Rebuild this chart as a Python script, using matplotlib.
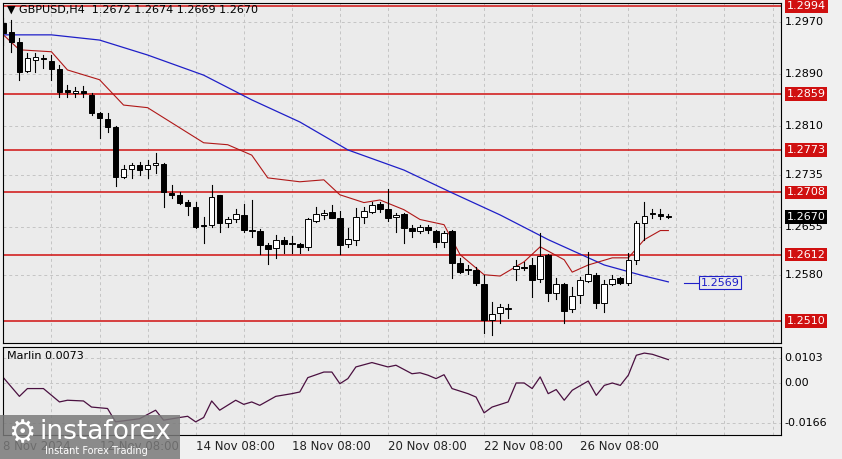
import numpy as np
import matplotlib.pyplot as plt
from matplotlib.patches import Rectangle

# H4 candles
opens = [1.2968, 1.2955, 1.2939, 1.2895, 1.2912, 1.2915, 1.2910, 1.2898, 1.2865, 1.2861,
         1.2864, 1.2858, 1.2830, 1.2821, 1.2809, 1.2731, 1.2744, 1.2750, 1.2744, 1.2750,
         1.2752, 1.2707, 1.2704, 1.2693, 1.2685, 1.2658, 1.2658, 1.2704, 1.2661, 1.2666,
         1.2673, 1.2650, 1.2648, 1.2627, 1.2622, 1.2635, 1.2630, 1.2628, 1.2624, 1.2664,
         1.2673, 1.2678, 1.2669, 1.2628, 1.2635, 1.2670, 1.2678, 1.2690, 1.2682, 1.2670,
         1.2675, 1.2653, 1.2648, 1.2655, 1.2648, 1.2632, 1.2648, 1.2599, 1.2590, 1.2589,
         1.2567, 1.2512, 1.2522, 1.2529, 1.2590, 1.2593, 1.2596, 1.2575, 1.2612, 1.2553,
         1.2567, 1.2529, 1.2550, 1.2572, 1.2581, 1.2538, 1.2567, 1.2576, 1.2569, 1.2604,
         1.2661, 1.2676, 1.2675, 1.2672]
highs = [1.2976, 1.2973, 1.2945, 1.2922, 1.2922, 1.2919, 1.2919, 1.2904, 1.2873, 1.2870,
         1.2872, 1.2861, 1.2832, 1.2830, 1.2810, 1.2750, 1.2753, 1.2755, 1.2758, 1.2769,
         1.2753, 1.2719, 1.2709, 1.2696, 1.2693, 1.2670, 1.2719, 1.2704, 1.2670, 1.2682,
         1.2690, 1.2696, 1.2652, 1.2630, 1.2642, 1.2639, 1.2641, 1.2630, 1.2669, 1.2685,
         1.2681, 1.2689, 1.2679, 1.2653, 1.2684, 1.2685, 1.2693, 1.2693, 1.2713, 1.2676,
         1.2676, 1.2658, 1.2658, 1.2658, 1.2650, 1.2648, 1.2650, 1.2607, 1.2596, 1.2593,
         1.2581, 1.2539, 1.2536, 1.2536, 1.2604, 1.2601, 1.2607, 1.2645, 1.2613, 1.2576,
         1.2569, 1.2562, 1.2578, 1.2616, 1.2584, 1.2573, 1.2581, 1.2578, 1.2615, 1.2664,
         1.2693, 1.2682, 1.2682, 1.2674]
lows = [1.2935, 1.2924, 1.2881, 1.2893, 1.2893, 1.2899, 1.2881, 1.2855, 1.2855, 1.2855,
        1.2855, 1.2827, 1.2792, 1.2801, 1.2718, 1.2730, 1.2730, 1.2735, 1.2730, 1.2738,
        1.2685, 1.2699, 1.2690, 1.2673, 1.2653, 1.2630, 1.2655, 1.2647, 1.2655, 1.2662,
        1.2647, 1.2639, 1.2613, 1.2598, 1.2607, 1.2615, 1.2615, 1.2615, 1.2619, 1.2662,
        1.2666, 1.2669, 1.2613, 1.2624, 1.2627, 1.2661, 1.2676, 1.2678, 1.2664, 1.2647,
        1.2630, 1.2639, 1.2645, 1.2645, 1.2624, 1.2624, 1.2576, 1.2584, 1.2582, 1.2565,
        1.2492, 1.2489, 1.2507, 1.2515, 1.2573, 1.2589, 1.2547, 1.2570, 1.2541, 1.2543,
        1.2507, 1.2524, 1.2538, 1.2570, 1.2530, 1.2524, 1.2565, 1.2567, 1.2565, 1.2597,
        1.2634, 1.2669, 1.2666, 1.2669]
closes = [1.2953, 1.2939, 1.2893, 1.2915, 1.2916, 1.2913, 1.2898, 1.2862, 1.2862, 1.2864,
          1.2861, 1.2830, 1.2822, 1.2809, 1.2731, 1.2744, 1.2750, 1.2742, 1.2750, 1.2753,
          1.2709, 1.2704, 1.2692, 1.2687, 1.2655, 1.2656, 1.2701, 1.2661, 1.2666, 1.2675,
          1.2650, 1.2648, 1.2627, 1.2621, 1.2635, 1.2628, 1.2628, 1.2624, 1.2666, 1.2675,
          1.2676, 1.2669, 1.2627, 1.2636, 1.2670, 1.2679, 1.2689, 1.2682, 1.2669, 1.2673,
          1.2653, 1.2648, 1.2655, 1.2650, 1.2632, 1.2645, 1.2599, 1.2585, 1.2589, 1.2569,
          1.2512, 1.2521, 1.2531, 1.2530, 1.2595, 1.2592, 1.2573, 1.2610, 1.2553, 1.2566,
          1.2525, 1.2549, 1.2573, 1.2582, 1.2538, 1.2567, 1.2575, 1.2569, 1.2604, 1.2661,
          1.2672, 1.2675, 1.2672, 1.2670]

# moving averages (read at candle indices)
blue_idx = [0, 6, 12, 18, 25, 31, 37, 43, 50, 56, 62, 68, 75, 80, 83]
blue_val = [1.2950, 1.2950, 1.2942, 1.2919, 1.2888, 1.2850, 1.2816, 1.2773, 1.2742, 1.2707,
            1.2673, 1.2635, 1.2596, 1.2579, 1.2570]
blue_label = 1.2569
red_idx = [0, 2, 6, 8, 12, 15, 18, 25, 28, 31, 33, 37, 40, 42, 45, 47, 50, 52, 55, 57, 60,
           62, 65, 67, 70, 71, 73, 76, 78, 80, 82, 83]
red_val = [1.2950, 1.2927, 1.2924, 1.2896, 1.2881, 1.2842, 1.2838, 1.2784, 1.2781, 1.2765,
           1.2730, 1.2724, 1.2727, 1.2704, 1.2692, 1.2696, 1.2681, 1.2666, 1.2658, 1.2612,
           1.2581, 1.2579, 1.2601, 1.2624, 1.2604, 1.2585, 1.2596, 1.2607, 1.2607, 1.2635,
           1.2649, 1.2649]

# Marlin oscillator
marlin_idx = [0, 2, 3, 5, 7, 8, 10, 11, 13, 14, 17, 19, 20, 22, 23, 24, 25, 26, 27, 29, 30,
              31, 32, 34, 36, 37, 38, 40, 41, 42, 43, 44, 46, 48, 49, 51, 52, 53, 54, 55, 56,
              58, 59, 60, 61, 63, 64, 65, 66, 67, 68, 69, 70, 71, 73, 74, 75, 76, 77, 78, 79,
              80, 81, 83]
marlin_val = [0.0022, -0.0055, -0.0023, -0.0023, -0.0078, -0.0071, -0.0074, -0.0099, -0.0105,
              -0.0160, -0.0147, -0.0112, -0.0153, -0.0142, -0.0137, -0.0160, -0.0142, -0.0074,
              -0.0112, -0.0071, -0.0088, -0.0078, -0.0092, -0.0055, -0.0044, -0.0037, 0.0022,
              0.0045, 0.0045, -0.0003, 0.0018, 0.0066, 0.0084, 0.0066, 0.0073, 0.0038, 0.0042,
              0.0032, 0.0018, 0.0034, -0.0023, -0.0044, -0.0058, -0.0123, -0.0099, -0.0078,
              0.0000, 0.0000, -0.0023, 0.0025, -0.0044, -0.0027, -0.0071, -0.0030, 0.0008,
              -0.0051, -0.0010, 0.0000, -0.0010, 0.0032, 0.0114, 0.0123, 0.0118, 0.0096]

levels = [1.2994, 1.2859, 1.2773, 1.2708, 1.2612, 1.2510]
grid_prices = [1.2970, 1.2890, 1.2810, 1.2735, 1.2655, 1.2580]
date_idx = [0, 12, 24, 36, 48, 60, 72]
date_labels = ['8 Nov 2024', '12 Nov 08:00', '14 Nov 08:00', '18 Nov 08:00',
               '20 Nov 08:00', '22 Nov 08:00', '26 Nov 08:00']

BG = '#ebebeb'
fig = plt.figure(figsize=(8.42, 4.59), dpi=100, facecolor='#f0f0f0')
ax = fig.add_axes([0.004, 1 - 343 / 459, 0.923, 340 / 459], facecolor=BG)
ax2 = fig.add_axes([0.004, 1 - 435 / 459, 0.923, 88 / 459], facecolor=BG)

for a in (ax, ax2):
    a.set_xlim(0, 97)
    for i in range(0, 97, 6):
        a.axvline(i, color='#c4c4c4', lw=0.7, ls=(0, (3, 3)), zorder=0)
    for s in a.spines.values():
        s.set_color('black')
    a.tick_params(left=False, right=False, bottom=False, labelleft=False, labelbottom=False)

ax.set_ylim(1.2476, 1.2999)
for p in grid_prices:
    ax.axhline(p, color='#c4c4c4', lw=0.7, ls=(0, (3, 3)), zorder=0)
for p in levels:
    ax.axhline(p, color='#d01010', lw=1.1, zorder=1)

ax.plot(blue_idx, blue_val, color='#1f1fc8', lw=0.9, zorder=2)
ax.plot(red_idx, red_val, color='#b01818', lw=0.8, zorder=2)

w = 0.7
for i, (o, h, l, c) in enumerate(zip(opens, highs, lows, closes)):
    ax.plot([i, i], [l, h], color='black', lw=0.8, zorder=3)
    face = 'white' if c >= o else 'black'
    lo, hi = min(o, c), max(o, c)
    ax.add_patch(Rectangle((i - w / 2, lo), w, max(hi - lo, 0.00008), facecolor=face,
                           edgecolor='black', lw=0.7, zorder=4))

# right price scale
tf = ax.get_yaxis_transform()
for p in grid_prices:
    ax.text(1.005, p, f'{p:.4f}', transform=tf, fontsize=8, va='center', ha='left')
for p in levels:
    ax.text(1.008, p, f'{p:.4f}', transform=tf, fontsize=8, va='center', ha='left',
            color='white', bbox=dict(boxstyle='square,pad=0.15', fc='#d01010', ec='none'))
ax.text(1.008, closes[-1], f'{closes[-1]:.4f}', transform=tf, fontsize=8, va='center',
        ha='left', color='white', bbox=dict(boxstyle='square,pad=0.15', fc='black', ec='none'))
ax.plot([85, 86.8], [blue_label] * 2, color='#1f1fc8', lw=0.8)
ax.text(87, blue_label, f'{blue_label:.4f}', fontsize=8, va='center', ha='left',
        color='#1f1fc8', bbox=dict(boxstyle='square,pad=0.15', fc=BG, ec='#1f1fc8', lw=0.8))

ax.text(0.005, 0.995, '▼ GBPUSD,H4  1.2672 1.2674 1.2669 1.2670', transform=ax.transAxes,
        fontsize=8, va='top', ha='left')

# indicator pane
ax2.set_ylim(-0.0214, 0.0148)
for v in (0.0103, 0.0, -0.0166):
    ax2.axhline(v, color='#c4c4c4', lw=0.7, ls=(0, (3, 3)), zorder=0)
ax2.plot(marlin_idx, marlin_val, color='#4a1040', lw=0.9)
tf2 = ax2.get_yaxis_transform()
for v, s in [(0.0103, '0.0103'), (0.0, '0.00'), (-0.0166, '-0.0166')]:
    ax2.text(1.005, v, s, transform=tf2, fontsize=8, va='center', ha='left')
ax2.text(0.005, 0.96, 'Marlin 0.0073', transform=ax2.transAxes, fontsize=8, va='top', ha='left')

# dates under the indicator pane
tfx = ax2.get_xaxis_transform()
for i, s in zip(date_idx, date_labels):
    ax2.text(i, -0.06, s, transform=tfx, fontsize=8.5, va='top', ha='left', color='#222222')

# watermark logo
fig.patches.append(Rectangle((0, 0), 180 / 842, 44 / 459, transform=fig.transFigure,
                             facecolor='#7a7a7a', alpha=0.85, edgecolor='none', zorder=10))
fig.text(8 / 842, 25 / 459, '⚙', fontsize=22, color='white', va='center', ha='left', zorder=11)
fig.text(40 / 842, 27 / 459, 'instaforex', fontsize=19, color='white', va='center', ha='left',
         zorder=11)
fig.text(45 / 842, 8 / 459, 'Instant Forex Trading', fontsize=7, color='white', va='center',
         ha='left', zorder=11)

fig.savefig('out.png', dpi=100, facecolor=fig.get_facecolor())
